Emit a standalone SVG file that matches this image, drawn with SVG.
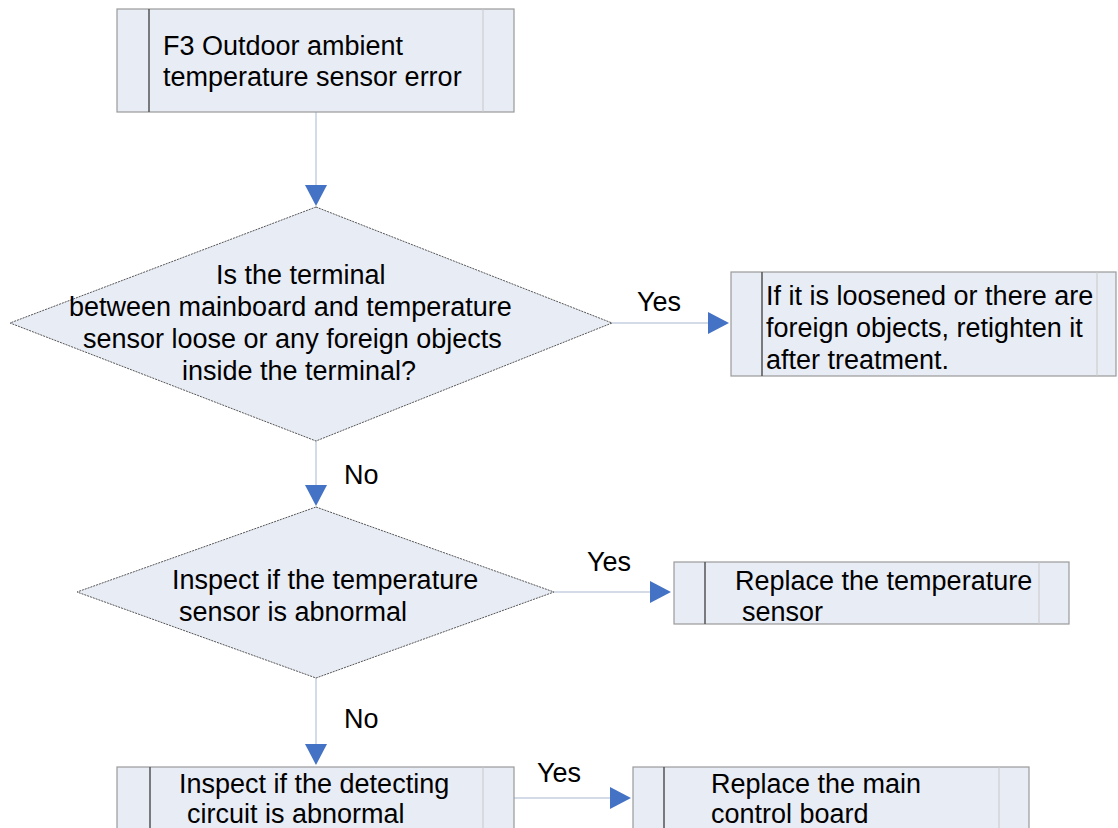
<svg xmlns="http://www.w3.org/2000/svg" width="1118" height="828" viewBox="0 0 1118 828">
<style>
.box{fill:#e8ecf5;stroke:#9a9a9a;stroke-width:1.2}
.inL{stroke:#555;stroke-width:1.5}
.inR{stroke:#c8c8c8;stroke-width:1}
.dia{fill:#e8ecf5;stroke:#555;stroke-width:1;stroke-dasharray:2 1}
.con{fill:none;stroke:#c5cfe2;stroke-width:1.5}
.ah{fill:#4472c4}
text{font-family:"Liberation Sans",Arial,sans-serif;font-size:27px;fill:#000}
</style>
<rect width="1118" height="828" fill="#fff"/>
<g id="connectors">
<line class="con" x1="316" y1="112" x2="316" y2="186"/>
<polygon class="ah" points="305,185 327,185 316,206"/>
<line class="con" x1="612" y1="323" x2="709" y2="323"/>
<polygon class="ah" points="708,312 708,334 729,323"/>
<line class="con" x1="316" y1="441" x2="316" y2="486"/>
<polygon class="ah" points="305,485 327,485 316,506"/>
<line class="con" x1="554" y1="592" x2="651" y2="592"/>
<polygon class="ah" points="650,581 650,603 671,592"/>
<line class="con" x1="316" y1="678" x2="316" y2="745"/>
<polygon class="ah" points="305,744 327,744 316,765"/>
<line class="con" x1="514" y1="798" x2="611" y2="798"/>
<polygon class="ah" points="610,787 610,809 631,798"/>
</g>
<g id="n1">
<rect class="box" x="117" y="9" width="397" height="103"/>
<line class="inL" x1="149" y1="9" x2="149" y2="112"/>
<line class="inR" x1="483" y1="9" x2="483" y2="112"/>
<text x="163" y="55">F3 Outdoor ambient</text>
<text x="163" y="86">temperature sensor error</text>
</g>
<g id="d1">
<polygon class="dia" points="316,207 612,323 316,441 10,323"/>
<text x="216" y="284">Is the terminal</text>
<text x="69" y="316">between mainboard and temperature</text>
<text x="83" y="348">sensor loose or any foreign objects</text>
<text x="182" y="380">inside the terminal?</text>
</g>
<text x="637" y="311">Yes</text>
<g id="n2">
<rect class="box" x="731" y="272" width="385" height="104"/>
<line class="inL" x1="762" y1="272" x2="762" y2="376"/>
<line class="inR" x1="1097" y1="272" x2="1097" y2="376"/>
<text x="766" y="305">If it is loosened or there are</text>
<text x="766" y="337">foreign objects, retighten it</text>
<text x="766" y="369">after treatment.</text>
</g>
<text x="344" y="484">No</text>
<g id="d2">
<polygon class="dia" points="316,507 554,592 316,678 77,592"/>
<text x="172" y="589">Inspect if the temperature</text>
<text x="179" y="621">sensor is abnormal</text>
</g>
<text x="587" y="571">Yes</text>
<g id="n3">
<rect class="box" x="674" y="562" width="395" height="62"/>
<line class="inL" x1="705" y1="562" x2="705" y2="624"/>
<line class="inR" x1="1039" y1="562" x2="1039" y2="624"/>
<text x="735" y="590">Replace the temperature</text>
<text x="742" y="621">sensor</text>
</g>
<text x="344" y="728">No</text>
<g id="n4">
<rect class="box" x="117" y="767" width="397" height="70"/>
<line class="inL" x1="150" y1="767" x2="150" y2="828"/>
<line class="inR" x1="483" y1="767" x2="483" y2="828"/>
<text x="179" y="793">Inspect if the detecting</text>
<text x="187" y="823">circuit is abnormal</text>
</g>
<text x="537" y="782">Yes</text>
<g id="n5">
<rect class="box" x="633" y="767" width="396" height="70"/>
<line class="inL" x1="664" y1="767" x2="664" y2="828"/>
<line class="inR" x1="999" y1="767" x2="999" y2="828"/>
<text x="711" y="793">Replace the main</text>
<text x="711" y="823">control board</text>
</g>
</svg>
